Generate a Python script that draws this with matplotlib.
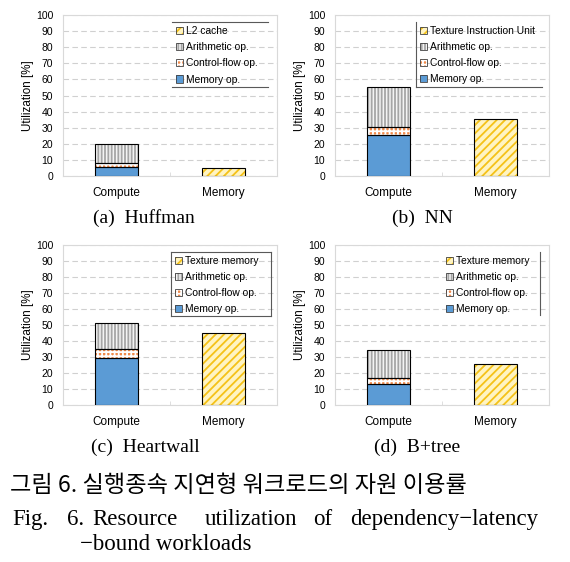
import matplotlib
matplotlib.use('Agg')
import matplotlib.pyplot as plt
from matplotlib.patches import Patch
import numpy as np

plt.rcParams['font.family'] = ['Liberation Sans', 'DejaVu Sans']
plt.rcParams['hatch.linewidth'] = 1.3

# 데이터
categories = ['Compute', 'Memory']
workloads = ['(a)  Huffman', '(b)  NN', '(c)  Heartwall', '(d)  B+tree']
memory_op = [5.8, 25.5, 29.6, 12.9]
control_op = [2.2, 5.1, 5.2, 4.2]
arith_op = [11.9, 24.4, 16.2, 17.3]
mem_unit = [5.2, 35.2, 44.8, 25.4]
mem_unit_names = ['L2 cache', 'Texture Instruction Unit', 'Texture memory', 'Texture memory']
op_names = ['Memory op.', 'Control-flow op.', 'Arithmetic op.']
caption_kr = '그림 6. 실행종속 지연형 워크로드의 자원 이용률'
caption_en = ['Fig.', '6.', 'Resource', 'utilization', 'of', 'dependency\u2212latency']
caption_en2 = '\u2212bound workloads'

# 스타일 (face, hatch colour, hatch)
st_mem = ('#5B9BD5', '#5B9BD5', None)
st_ctl = ('#F08A4B', 'white', '++++')
st_ari = ('#F4F4F4', '#A6A6A6', '|||||')
st_tex = ('#FFF4C2', '#F5C218', '////')

# 패널 위치 (px)
W, H = 570, 562
rects = [(63, 15, 176), (335, 15, 176), (63, 245, 405), (335, 245, 405)]
# 범례 상자 (axes 좌표) 와 보이는 테두리
leg_boxes = [(0.51, 0.553, 0.96, 0.957), (0.378, 0.551, 0.967, 0.958),
             (0.505, 0.556, 0.97, 0.958), (0.50, 0.562, 0.958, 0.958)]
leg_sides = [('top', 'bottom'), ('left', 'bottom'), ('top', 'bottom', 'left', 'right'), ('right',)]
cap_pos = [(144, 218), (422, 218), (145, 447), (417, 447)]

fig = plt.figure(figsize=(W / 100, H / 100), dpi=100)


def seg(ax, x, bottom, h, style):
    face, hc, hatch = style
    ax.bar(x, h, 0.4, bottom=bottom, color=face, edgecolor=hc, hatch=hatch, linewidth=0, zorder=3)
    ax.bar(x, h, 0.4, bottom=bottom, fill=False, edgecolor='black', linewidth=0.8, zorder=4)


def handle(style):
    face, hc, hatch = style
    return (Patch(facecolor=face, edgecolor=hc, hatch=hatch, linewidth=0),
            Patch(fill=False, edgecolor='#404040', linewidth=0.6))


xs = np.arange(len(categories))
for i in range(4):
    l, t, b = rects[i]
    ax = fig.add_axes([l / W, 1 - b / H, 214 / W, (b - t) / H])
    seg(ax, xs[0], 0, memory_op[i], st_mem)
    seg(ax, xs[0], memory_op[i], control_op[i], st_ctl)
    seg(ax, xs[0], memory_op[i] + control_op[i], arith_op[i], st_ari)
    seg(ax, xs[1], 0, mem_unit[i], st_tex)

    ax.set_xlim(-0.5, 1.5)
    ax.set_ylim(0, 100)
    ax.set_yticks(range(0, 101, 10))
    ax.set_xticks(xs)
    ax.set_xticklabels(categories, fontsize=8.5)
    ax.set_xticks([0.5], minor=True)
    ax.tick_params(axis='x', which='major', length=0, pad=8)
    ax.tick_params(axis='x', which='minor', length=3, color='#D9D9D9', direction='in')
    ax.tick_params(axis='y', length=0, labelsize=7.5, pad=7)
    ax.yaxis.grid(True, color='#D0D0D0', linestyle=(0, (5, 3)), linewidth=0.8, zorder=0)
    ax.set_axisbelow(True)
    for s in ax.spines.values():
        s.set_color('#D9D9D9')
        s.set_linewidth(0.8)
    ax.set_ylabel('Utilization [%]', fontsize=8.4, labelpad=1.5)

    x0, y0, x1, y1 = leg_boxes[i]
    hs = [handle(st_tex), handle(st_ari), handle(st_ctl), handle(st_mem)]
    labels = [mem_unit_names[i], op_names[2], op_names[1], op_names[0]]
    ax.legend(hs, labels, loc='upper left', bbox_to_anchor=(x0, y1), frameon=False,
              fontsize=7.4, handlelength=0.7, handleheight=0.7, handletextpad=0.25,
              labelspacing=0.6, borderpad=0.4, borderaxespad=0)
    lines = {'top': ([x0, x1], [y1, y1]), 'bottom': ([x0, x1], [y0, y0]),
             'left': ([x0, x0], [y0, y1]), 'right': ([x1, x1], [y0, y1])}
    for side in leg_sides[i]:
        ax.plot(*lines[side], transform=ax.transAxes, color='#595959', linewidth=0.8,
                clip_on=False, zorder=6)

    cx, cy = cap_pos[i]
    fig.text(cx / W, 1 - cy / H, workloads[i], ha='center', va='center',
             fontsize=14, family=['Liberation Serif', 'DejaVu Serif'])

fig.text(10 / W, 1 - 486 / H, caption_kr, ha='left', va='center', fontsize=16.7,
         family=['Noto Sans CJK KR', 'DejaVu Sans'])
word_x = [12, 67, 92, 205, 313, 350]
for wx, w in zip(word_x, caption_en):
    fig.text(wx / W, 1 - 525 / H, w, ha='left', va='baseline', fontsize=16.5,
             family=['Liberation Serif', 'DejaVu Serif'])
fig.text(80 / W, 1 - 550 / H, caption_en2, ha='left', va='baseline', fontsize=16.5,
         family=['Liberation Serif', 'DejaVu Serif'])

fig.savefig('out.png', dpi=100)
